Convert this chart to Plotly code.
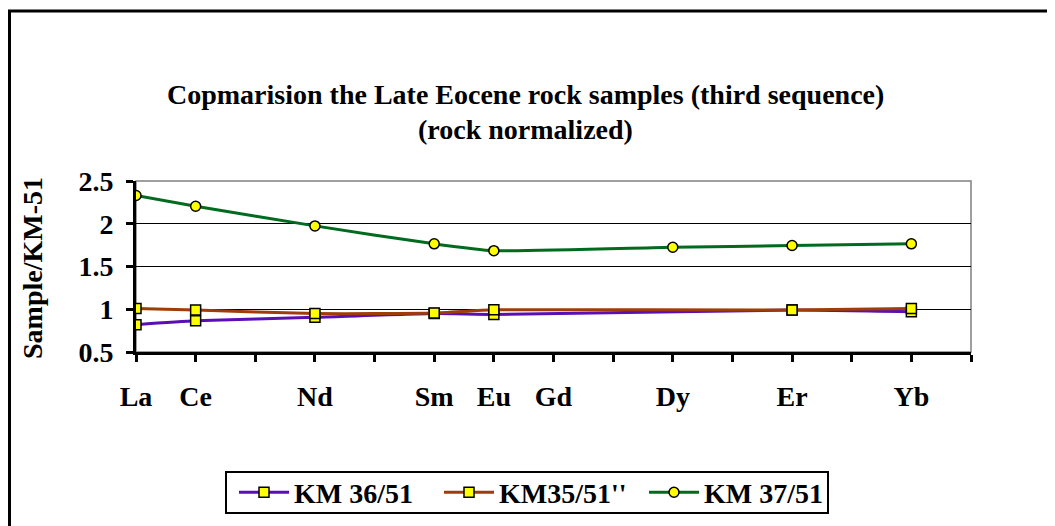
import plotly.graph_objects as go

categories = ["La", "Ce", "", "Nd", "", "Sm", "Eu", "Gd", "", "Dy", "", "Er", "", "Yb", ""]
km36 = [0.82, 0.865, None, 0.905, None, 0.95, 0.94, None, None, None, None, 0.99, None, 0.97, None]
km35 = [1.01, 0.99, None, 0.95, None, 0.955, 0.995, None, None, None, None, 0.99, None, 1.01, None]
km37 = [2.33, 2.205, None, 1.975, None, 1.765, 1.685, None, None, 1.725, None, 1.745, None, 1.765, None]
series_names = ["KM 36/51", "KM35/51''", "KM 37/51"]
y_ticks = [0.5, 1, 1.5, 2, 2.5]
y_labels = ["0.5", "1", "1.5", "2", "2.5"]

FONT = "Liberation Serif"
x_idx = list(range(len(categories)))

fig = go.Figure()
specs = [
    (km36, series_names[0], "#5a0fb4", "square"),
    (km35, series_names[1], "#a03c0a", "square"),
    (km37, series_names[2], "#006b1e", "circle"),
]
for vals, name, col, sym in specs:
    xs = [x for x, v in zip(x_idx, vals) if v is not None]
    ys = [v for v in vals if v is not None]
    fig.add_trace(go.Scatter(
        x=xs, y=ys, name=name, mode="lines+markers",
        line=dict(color=col, width=3, shape="spline", smoothing=0.5),
        marker=dict(symbol=sym, size=10, color="#ffff00", line=dict(color="black", width=1.5)),
    ))

# page has an 8px body margin; figure-pixel coordinates below
L, R, T, B = 128, 92, 173, 182
W, H = 1055, 526
pw, ph = W - L - R, H - T - B

def px_x(p):
    return (p - L) / pw

def px_y(p):
    return (H - B - p) / ph

bold28 = dict(family=FONT, size=28, color="black", weight="bold")

fig.update_layout(
    width=W, height=H,
    margin=dict(l=L, r=R, t=T, b=B),
    paper_bgcolor="white", plot_bgcolor="white",
    font=dict(family=FONT, color="black"),
    showlegend=True,
    legend=dict(
        orientation="h", x=px_x(226), xanchor="left", y=px_y(484.5), yanchor="middle",
        borderwidth=0, bgcolor="rgba(0,0,0,0)",
        font=bold28, itemwidth=50, entrywidth=140, entrywidthmode="pixels", tracegroupgap=0,
    ),
    xaxis=dict(
        range=[0, len(categories) - 1], tickmode="array", tickvals=x_idx, ticktext=categories,
        showgrid=False, zeroline=False, showline=True, linecolor="black", linewidth=3,
        ticks="outside", ticklen=7, tickwidth=3, tickcolor="black",
        tickfont=bold28, ticklabelstandoff=10,
    ),
    yaxis=dict(
        range=[0.5, 2.5], tickmode="array", tickvals=y_ticks, ticktext=y_labels,
        showgrid=True, gridcolor="black", gridwidth=1, zeroline=False,
        showline=True, linecolor="black", linewidth=3,
        ticks="outside", ticklen=7, tickwidth=3, tickcolor="black",
        tickfont=bold28, ticklabelstandoff=7,
    ),
    shapes=[
        dict(type="rect", xref="paper", yref="paper", x0=0, x1=1, y0=0, y1=1,
             line=dict(color="#808080", width=1.5), layer="below"),
        dict(type="rect", xref="paper", yref="paper", x0=px_x(1.5), x1=px_x(1300), y0=px_y(3), y1=px_y(800),
             line=dict(color="black", width=3), layer="below"),
        dict(type="rect", xref="paper", yref="paper", x0=px_x(218), x1=px_x(820), y0=px_y(464), y1=px_y(505),
             line=dict(color="black", width=2), fillcolor="white", layer="below"),
    ],
    annotations=[
        dict(text="<b>Copmarision the Late Eocene rock samples (third sequence)</b>", xref="paper", yref="paper",
             x=px_x(517), y=px_y(86), xanchor="center", yanchor="middle", showarrow=False,
             font=dict(family=FONT, size=28, color="black")),
        dict(text="<b>(rock normalized)</b>", xref="paper", yref="paper",
             x=px_x(517), y=px_y(121), xanchor="center", yanchor="middle", showarrow=False,
             font=dict(family=FONT, size=28, color="black")),
        dict(text="<b>Sample/KM-51</b>", xref="paper", yref="paper", textangle=-90,
             x=px_x(24), y=px_y(260), xanchor="center", yanchor="middle", showarrow=False,
             font=dict(family=FONT, size=28, color="black")),
    ],
)

fig.write_html("out.html")
